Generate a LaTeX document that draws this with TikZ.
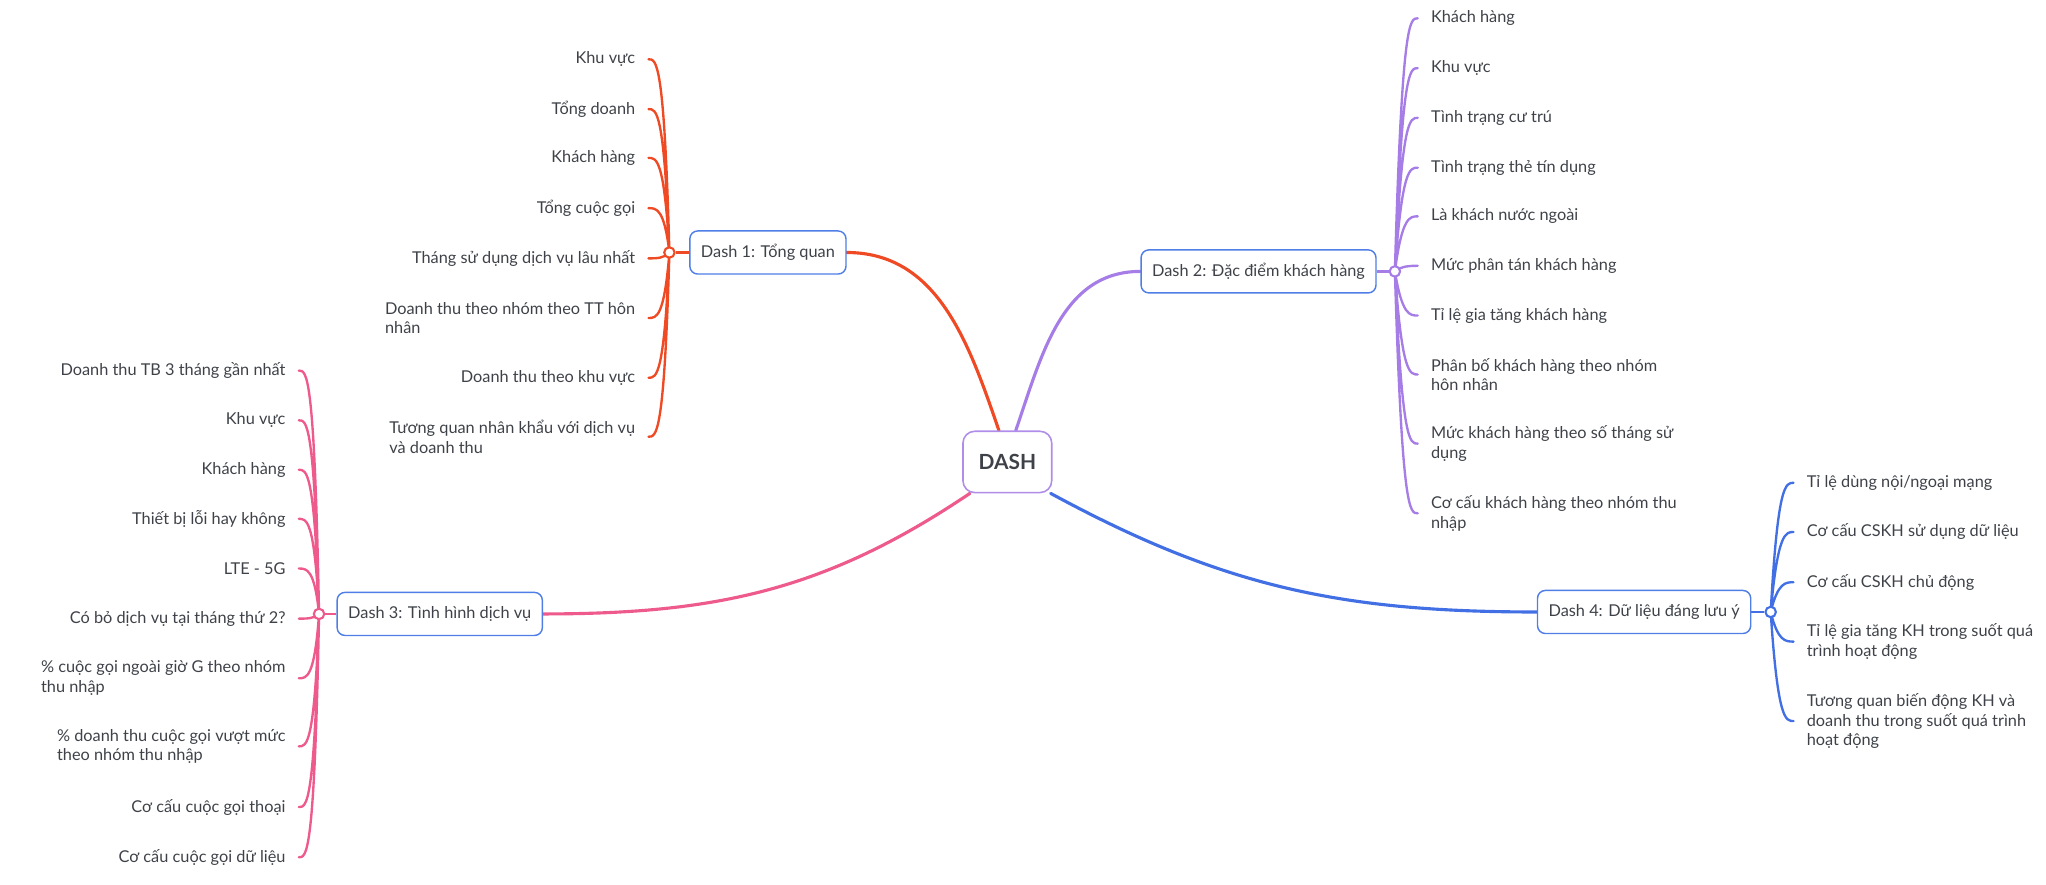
\documentclass[tikz,border=0pt]{standalone}
\usepackage{fontspec}
\setmainfont{Lato}
\usepackage{tikz}
\usetikzlibrary{backgrounds,calc}
\definecolor{ink}{HTML}{3E4248}
\definecolor{boxblue}{HTML}{4F7EE6}
\definecolor{rootpurple}{HTML}{B08DE8}
\definecolor{redline}{HTML}{EF4A24}
\definecolor{purpleline}{HTML}{A67DE6}
\definecolor{pinkline}{HTML}{EE5A8C}
\definecolor{blueline}{HTML}{4270E4}

\begin{document}
\begin{tikzpicture}[x=1pt,y=1pt,
  root/.style={draw=rootpurple,line width=1.2pt,rounded corners=9pt,fill=white,minimum width=68pt,minimum height=47pt,text=ink,font=\fontsize{16}{16}\selectfont\bfseries},
  dashbox/.style={draw=boxblue,line width=1.1pt,rounded corners=6pt,fill=white,inner xsep=8.5pt,minimum height=33pt,text=ink,font=\fontsize{12.5}{15}\selectfont},
  hub/.style={circle,draw,line width=1.6pt,fill=white,inner sep=0pt,minimum size=8pt},
  item/.style={inner xsep=10pt,inner ysep=1pt,align=left,text=ink,font=\fontsize{12.5}{15.2}\selectfont},
  main/.style={line width=2.4pt,line cap=round},
  link/.style={line width=1.8pt},
  twig/.style={line width=1.8pt,line cap=round,to path={.. controls ($(\tikztotarget)+(#1,0)$) and ($(\tikztotarget)+(0.5*#1,0)$) .. (\tikztotarget)}}]
\useasboundingbox (0,0) rectangle (1568,-678);
\node[root] (dash) at (772,-354) {DASH};
\node[dashbox] (d1) at (588.5,-193.5) {Dash 1: Tổng quan};
\node[dashbox] (d2) at (964.5,-208) {Dash 2: Đặc điểm khách hàng};
\node[dashbox] (d3) at (337,-470.5) {Dash 3: Tình hình dịch vụ};
\node[dashbox] (d4) at (1260,-469) {Dash 4: Dữ liệu đáng lưu ý};
\node[hub,draw=redline] (d1hub) at (513,-193.5) {};
\node[hub,draw=purpleline] (d2hub) at (1069,-208) {};
\node[hub,draw=pinkline] (d3hub) at (244.5,-470.5) {};
\node[hub,draw=blueline] (d4hub) at (1357,-469) {};

\node[item,anchor=east] (d1a) at (497,-45.4) {Khu vực};
\node[item,anchor=east] (d1b) at (497,-83.6) {Tổng doanh};
\node[item,anchor=east] (d1c) at (497,-121) {Khách hàng};
\node[item,anchor=east] (d1d) at (497,-159.5) {Tổng cuộc gọi};
\node[item,anchor=east] (d1e) at (497,-198) {Tháng sử dụng dịch vụ lâu nhất};
\node[item,anchor=east] (d1f) at (497,-243.7) {Doanh thu theo nhóm theo TT hôn\\nhân};
\node[item,anchor=east] (d1g) at (497,-289.5) {Doanh thu theo khu vực};
\node[item,anchor=east] (d1h) at (497,-334.7) {Tương quan nhân khẩu với dịch vụ\\và doanh thu};

\node[item,anchor=west] (d2a) at (1086.5,-14) {Khách hàng};
\node[item,anchor=west] (d2b) at (1086.5,-52.2) {Khu vực};
\node[item,anchor=west] (d2c) at (1086.5,-90.3) {Tình trạng cư trú};
\node[item,anchor=west] (d2d) at (1086.5,-128.5) {Tình trạng thẻ tín dụng};
\node[item,anchor=west] (d2e) at (1086.5,-165.8) {Là khách nước ngoài};
\node[item,anchor=west] (d2f) at (1086.5,-203.7) {Mức phân tán khách hàng};
\node[item,anchor=west] (d2g) at (1086.5,-241.8) {Tỉ lệ gia tăng khách hàng};
\node[item,anchor=west] (d2h) at (1086.5,-287) {Phân bố khách hàng theo nhóm\\hôn nhân};
\node[item,anchor=west] (d2i) at (1086.5,-340) {Mức khách hàng theo số tháng sử\\dụng};
\node[item,anchor=west] (d2j) at (1086.5,-393.4) {Cơ cấu khách hàng theo nhóm thu\\nhập};

\node[item,anchor=east] (d3a) at (229,-284) {Doanh thu TB 3 tháng gần nhất};
\node[item,anchor=east] (d3b) at (229,-322.1) {Khu vực};
\node[item,anchor=east] (d3c) at (229,-360) {Khách hàng};
\node[item,anchor=east] (d3d) at (229,-397.6) {Thiết bị lỗi hay không};
\node[item,anchor=east] (d3e) at (229,-435.7) {LTE - 5G};
\node[item,anchor=east] (d3f) at (229,-474.1) {Có bỏ dịch vụ tại tháng thứ 2?};
\node[item,anchor=east] (d3g) at (229,-519.8) {\% cuộc gọi ngoài giờ G theo nhóm\\thu nhập};
\node[item,anchor=east] (d3h) at (229,-572) {\% doanh thu cuộc gọi vượt mức\\theo nhóm thu nhập};
\node[item,anchor=east] (d3i) at (229,-618.5) {Cơ cấu cuộc gọi thoại};
\node[item,anchor=east] (d3j) at (229,-657) {Cơ cấu cuộc gọi dữ liệu};

\node[item,anchor=west] (d4a) at (1374.5,-370) {Tỉ lệ dùng nội/ngoại mạng};
\node[item,anchor=west] (d4b) at (1374.5,-407.7) {Cơ cấu CSKH sử dụng dữ liệu};
\node[item,anchor=west] (d4c) at (1374.5,-446.2) {Cơ cấu CSKH chủ động};
\node[item,anchor=west] (d4d) at (1374.5,-491.7) {Tỉ lệ gia tăng KH trong suốt quá\\trình hoạt động};
\node[item,anchor=west] (d4e) at (1374.5,-552.6) {Tương quan biến động KH và\\doanh thu trong suốt quá trình\\hoạt động};

\begin{scope}[on background layer]
\draw[main,redline] (d1.east) to[out=0,in=109] (dash.105);
\draw[main,purpleline] (dash.75) to[out=71,in=180] (d2.west);
\draw[main,pinkline] (dash.220) to[out=214,in=0] (d3.east);
\draw[main,blueline] (dash.-36) to[out=-28.5,in=180] (d4.west);
\draw[link,redline] (d1hub) -- (d1);
\draw[link,purpleline] (d2hub) -- (d2);
\draw[link,pinkline] (d3hub) -- (d3);
\draw[link,blueline] (d4hub) -- (d4);
\draw[twig=12,redline] (d1hub.center) to (d1a.east) (d1hub.center) to (d1b.east) (d1hub.center) to (d1c.east) (d1hub.center) to (d1d.east)
  (d1hub.center) to (d1e.east) (d1hub.center) to (d1f.east) (d1hub.center) to (d1g.east) (d1hub.center) to (d1h.east);
\draw[twig=-12,purpleline] (d2hub.center) to (d2a.west) (d2hub.center) to (d2b.west) (d2hub.center) to (d2c.west) (d2hub.center) to (d2d.west) (d2hub.center) to (d2e.west)
  (d2hub.center) to (d2f.west) (d2hub.center) to (d2g.west) (d2hub.center) to (d2h.west) (d2hub.center) to (d2i.west) (d2hub.center) to (d2j.west);
\draw[twig=12,pinkline] (d3hub.center) to (d3a.east) (d3hub.center) to (d3b.east) (d3hub.center) to (d3c.east) (d3hub.center) to (d3d.east) (d3hub.center) to (d3e.east)
  (d3hub.center) to (d3f.east) (d3hub.center) to (d3g.east) (d3hub.center) to (d3h.east) (d3hub.center) to (d3i.east) (d3hub.center) to (d3j.east);
\draw[twig=-12,blueline] (d4hub.center) to (d4a.west) (d4hub.center) to (d4b.west) (d4hub.center) to (d4c.west) (d4hub.center) to (d4d.west) (d4hub.center) to (d4e.west);
\end{scope}
\end{tikzpicture}
\end{document}
